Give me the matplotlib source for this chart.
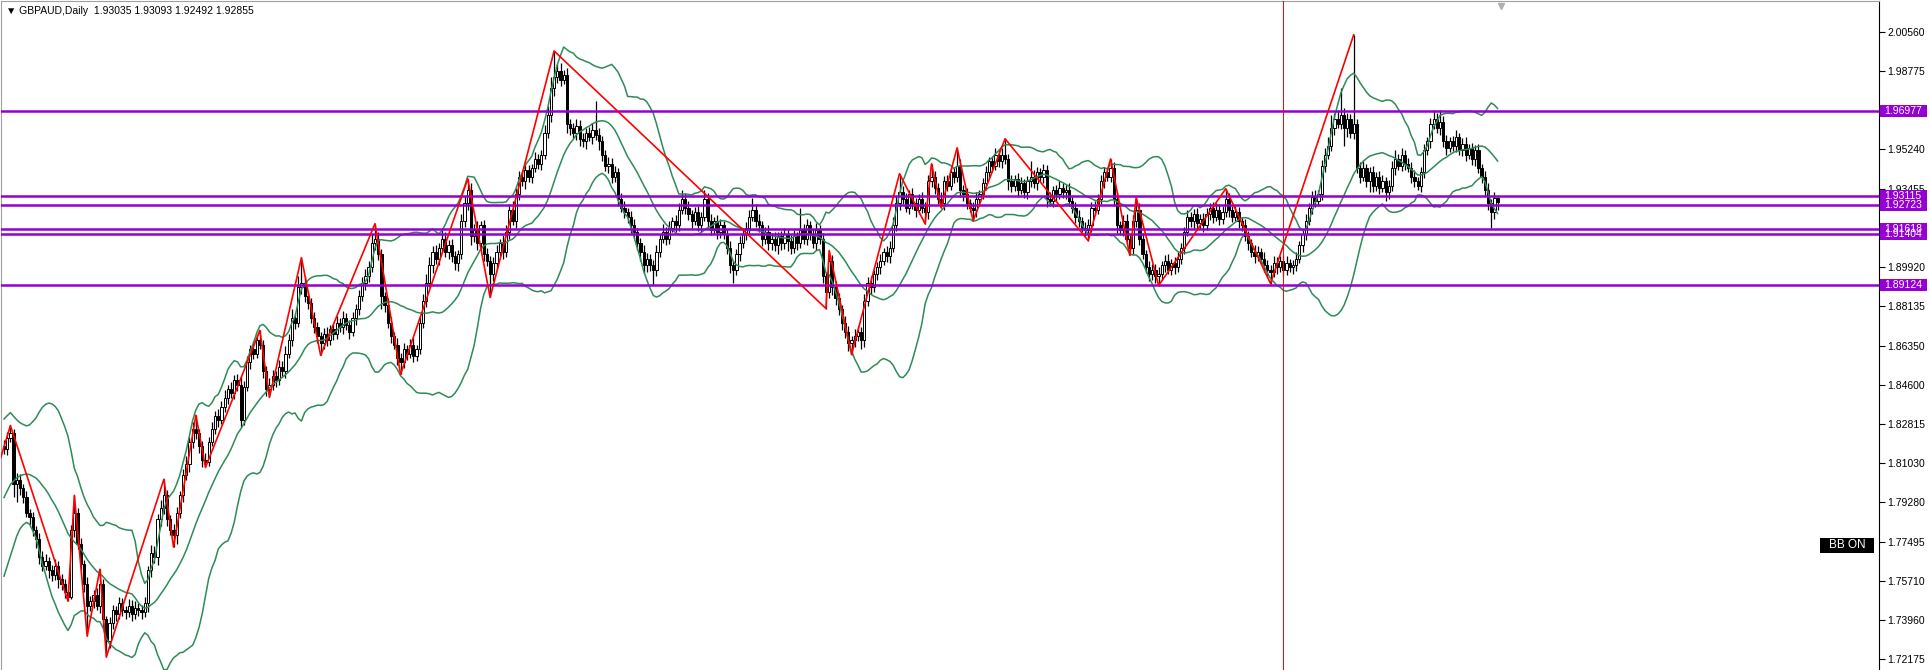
import numpy as np
import pandas as pd
import matplotlib
matplotlib.use("Agg")
import matplotlib.pyplot as plt
import matplotlib.transforms as mtransforms
from matplotlib.patches import Rectangle

"""
GBPAUD daily chart, MT4 look: candles, bollinger(20, 2), zigzag, horizontal levels.
prices are written in 1e-4 units (pips) to keep the lists short.
"""

W, H = 1931, 670

# closes before the first visible bar, only needed to start the bollinger window
pre_closes = [17620, 17660, 17700, 17740, 17800, 17850, 17830, 17900, 17950, 17920,
              17980, 18030, 18000, 18080, 18120, 18100, 18150, 18200, 18180]

# visible daily closes (open = previous close)
closes = [
    18170, 18220, 18240, 18010, 18030, 17990, 17950, 17880, 17860, 17800, 17760, 17680, 17640, 17660, 17620, 17600, 17640, 17580, 17560, 17520,  # 0
    17500, 17800, 17880, 17740, 17650, 17560, 17460, 17480, 17510, 17460, 17560, 17400, 17300, 17380, 17440, 17420, 17470, 17440, 17430, 17460,  # 20
    17420, 17450, 17440, 17430, 17470, 17620, 17700, 17680, 17850, 17900, 17960, 17850, 17800, 17780, 17880, 17960, 18050, 18100, 18200, 18260,  # 40
    18240, 18180, 18120, 18110, 18200, 18260, 18320, 18300, 18360, 18400, 18440, 18420, 18480, 18460, 18300, 18450, 18560, 18620, 18600, 18660,  # 60
    18640, 18520, 18440, 18460, 18500, 18480, 18540, 18520, 18600, 18660, 18760, 18740, 18900, 18920, 18860, 18830, 18760, 18720, 18680, 18650,  # 80
    18690, 18660, 18710, 18690, 18740, 18720, 18760, 18730, 18700, 18760, 18800, 18860, 18920, 18950, 18990, 19100, 19120, 19050, 18860, 18820,  # 100
    18740, 18680, 18640, 18580, 18560, 18620, 18600, 18640, 18590, 18620, 18740, 18840, 18920, 19000, 19060, 19030, 19080, 19120, 19060, 19090,  # 120
    19040, 19010, 19050, 19200, 19280, 19340, 19130, 19160, 19100, 19180, 19050, 19020, 18960, 19010, 19060, 19100, 19060, 19150, 19250, 19200,  # 140
    19320, 19400, 19380, 19430, 19400, 19440, 19480, 19460, 19500, 19600, 19680, 19800, 19850, 19880, 19840, 19860, 19640, 19620, 19600, 19630,  # 160
    19570, 19560, 19600, 19580, 19610, 19590, 19560, 19500, 19450, 19460, 19400, 19420, 19300, 19260, 19240, 19220, 19180, 19150, 19100, 19060,  # 180
    19000, 19030, 19000, 18980, 19060, 19120, 19150, 19120, 19170, 19200, 19180, 19250, 19300, 19260, 19230, 19200, 19240, 19180, 19220, 19300,  # 200
    19200, 19160, 19200, 19150, 19180, 19140, 19080, 19000, 18980, 19050, 19100, 19140, 19170, 19220, 19250, 19200, 19180, 19120, 19150, 19100,  # 220
    19120, 19090, 19130, 19100, 19140, 19110, 19080, 19130, 19100, 19160, 19120, 19180, 19140, 19100, 19160, 19120, 18950, 18880, 19020, 18900,  # 240
    18850, 18800, 18740, 18700, 18650, 18660, 18680, 18700, 18660, 18840, 18920, 18900, 18960, 18990, 19020, 19060, 19040, 19080, 19180, 19280,  # 260
    19330, 19300, 19260, 19320, 19280, 19250, 19300, 19260, 19240, 19380, 19400, 19350, 19300, 19280, 19380, 19360, 19420, 19400, 19450, 19340,  # 280
    19320, 19280, 19260, 19250, 19300, 19320, 19370, 19420, 19470, 19450, 19500, 19470, 19500, 19480, 19380, 19360, 19390, 19340, 19370, 19330,  # 300
    19380, 19400, 19370, 19420, 19400, 19430, 19300, 19290, 19340, 19320, 19350, 19330, 19340, 19290, 19260, 19220, 19200, 19170, 19160, 19180,  # 320
    19260, 19250, 19300, 19380, 19420, 19400, 19440, 19300, 19180, 19160, 19200, 19120, 19080, 19200, 19250, 19120, 19050, 18990, 18960, 18980,  # 340
    18950, 18960, 19000, 19020, 18980, 19010, 18990, 19030, 19080, 19150, 19220, 19200, 19230, 19190, 19210, 19180, 19230, 19260, 19220, 19250,  # 360
    19210, 19240, 19300, 19250, 19220, 19240, 19200, 19180, 19130, 19100, 19060, 19040, 19060, 19030, 19000, 18980, 18970, 19010, 18990, 19020,  # 380
    18980, 19010, 18990, 19000, 19030, 19090, 19140, 19200, 19260, 19310, 19290, 19320, 19450, 19500, 19540, 19620, 19660, 19640, 19680, 19620,  # 400
    19660, 19600, 19640, 19440, 19400, 19440, 19380, 19420, 19360, 19400, 19350, 19380, 19330, 19360, 19440, 19480, 19450, 19500, 19460, 19440,  # 420
    19400, 19380, 19360, 19420, 19520, 19560, 19640, 19660, 19620, 19650, 19560, 19530, 19560, 19540, 19580, 19520, 19550, 19500, 19530, 19480,  # 440
    19520, 19440, 19400, 19340, 19280, 19240, 19304, 19285.5,  # 460
]

# upper / lower shadow length above / below the body, pips
wick_up = [
    30, 25, 35, 20, 30, 25, 20, 30, 15, 25, 20, 30, 25, 35, 20, 25, 30, 20, 25, 20,
    20, 25, 79, 20, 25, 15, 30, 25, 20, 30, 65, 20, 15, 30, 25, 20, 30, 25, 20, 30,
    25, 30, 20, 25, 30, 20, 35, 30, 25, 40, 72, 25, 20, 30, 25, 20, 30, 35, 25, 30,
    61, 20, 25, 30, 25, 30, 20, 30, 25, 35, 20, 30, 25, 30, 40, 25, 30, 20, 35, 25,
    45, 20, 25, 30, 25, 20, 30, 25, 35, 30, 40, 25, 50, 114, 30, 25, 20, 30, 25, 20,
    25, 30, 20, 25, 30, 20, 35, 25, 20, 30, 25, 30, 25, 35, 30, 40, 68, 30, 25, 20,
    30, 25, 20, 30, 25, 30, 20, 25, 30, 20, 25, 30, 40, 35, 25, 30, 20, 50, 30, 25,
    30, 25, 20, 30, 35, 51, 30, 25, 40, 20, 25, 30, 20, 25, 30, 20, 35, 30, 25, 40,
    30, 25, 20, 30, 25, 20, 30, 25, 20, 35, 40, 50, 119, 30, 35, 25, 30, 20, 25, 30,
    25, 30, 20, 25, 35, 133, 30, 25, 20, 30, 25, 30, 20, 25, 30, 20, 25, 30, 20, 25,
    30, 25, 20, 25, 30, 20, 35, 25, 30, 20, 25, 30, 40, 25, 30, 20, 25, 30, 20, 40,
    25, 30, 20, 25, 30, 20, 25, 30, 20, 25, 30, 20, 25, 30, 55, 25, 30, 20, 25, 30,
    25, 30, 20, 25, 30, 20, 25, 30, 20, 100, 25, 30, 20, 25, 30, 20, 25, 20, 46, 25,
    30, 25, 20, 30, 25, 20, 30, 25, 20, 30, 25, 30, 20, 25, 30, 20, 25, 30, 40, 35,
    84, 30, 25, 20, 30, 25, 20, 30, 25, 30, 59, 25, 20, 30, 25, 30, 20, 25, 81, 30,
    25, 30, 20, 25, 30, 20, 25, 30, 20, 25, 30, 20, 30, 72, 25, 30, 20, 25, 30, 20,
    25, 70, 30, 25, 20, 30, 25, 30, 20, 25, 30, 20, 25, 30, 20, 25, 30, 20, 25, 30,
    25, 30, 20, 30, 25, 20, 41, 25, 30, 20, 25, 30, 20, 25, 56, 30, 25, 20, 30, 25,
    25, 30, 20, 25, 30, 20, 25, 30, 20, 25, 30, 20, 25, 30, 20, 25, 30, 20, 25, 30,
    25, 30, 46, 25, 20, 30, 25, 20, 30, 25, 20, 30, 25, 20, 30, 25, 20, 30, 25, 20,
    25, 30, 20, 25, 30, 20, 25, 30, 20, 25, 30, 20, 25, 30, 40, 60, 30, 40, 120, 30,
    30, 25, 402, 20, 25, 30, 20, 25, 30, 20, 25, 30, 20, 25, 30, 40, 25, 30, 20, 25,
    25, 30, 20, 25, 30, 20, 25, 40, 30, 50, 25, 30, 20, 25, 30, 20, 25, 30, 20, 25,
    25, 30, 20, 25, 30, 20, 25, 5,
]
wick_dn = [
    25, 30, 20, 60, 80, 30, 25, 20, 35, 25, 40, 30, 25, 20, 35, 30, 25, 40, 30, 25,
    19, 10, 30, 25, 30, 40, 137, 25, 30, 20, 35, 40, 72, 30, 25, 30, 20, 25, 30, 20,
    30, 20, 25, 30, 20, 40, 30, 25, 35, 30, 25, 30, 20, 55, 40, 25, 30, 20, 35, 25,
    25, 30, 35, 25, 20, 20, 25, 30, 20, 25, 30, 20, 25, 30, 30, 25, 20, 30, 25, 20,
    20, 30, 30, 38, 25, 30, 20, 25, 30, 20, 25, 30, 20, 30, 25, 30, 20, 25, 30, 58,
    30, 25, 20, 30, 25, 20, 30, 25, 35, 20, 30, 25, 20, 30, 25, 20, 30, 25, 60, 30,
    25, 30, 20, 30, 54, 25, 30, 20, 30, 25, 20, 25, 30, 20, 35, 25, 30, 20, 25, 30,
    25, 30, 35, 20, 25, 30, 40, 25, 30, 35, 30, 25, 106, 30, 25, 20, 30, 25, 30, 20,
    30, 25, 20, 35, 25, 30, 20, 25, 30, 20, 25, 30, 35, 25, 30, 20, 40, 30, 25, 35,
    30, 25, 35, 20, 30, 25, 40, 30, 25, 35, 30, 25, 30, 20, 25, 30, 35, 25, 30, 40,
    35, 30, 25, 70, 30, 25, 20, 30, 25, 20, 30, 25, 20, 30, 25, 30, 20, 25, 30, 20,
    30, 25, 20, 30, 25, 20, 30, 35, 60, 25, 30, 20, 25, 30, 20, 25, 30, 35, 25, 30,
    30, 25, 40, 30, 25, 45, 30, 25, 30, 20, 25, 30, 25, 20, 30, 25, 30, 76, 30, 35,
    30, 25, 35, 30, 40, 54, 30, 25, 40, 30, 25, 30, 20, 25, 30, 20, 25, 30, 20, 25,
    30, 25, 20, 30, 25, 30, 20, 25, 53, 30, 25, 30, 25, 20, 30, 25, 20, 30, 25, 30,
    30, 25, 20, 49, 30, 25, 20, 30, 25, 30, 20, 25, 30, 20, 40, 30, 25, 30, 20, 25,
    30, 25, 20, 30, 25, 30, 35, 20, 25, 30, 20, 25, 30, 20, 25, 30, 25, 20, 30, 49,
    30, 25, 20, 25, 30, 20, 25, 30, 35, 25, 30, 25, 36, 30, 25, 30, 20, 25, 30, 25,
    30, 42, 25, 30, 20, 25, 30, 20, 25, 30, 20, 25, 30, 20, 25, 30, 20, 25, 30, 20,
    30, 25, 20, 30, 25, 20, 30, 25, 20, 30, 25, 30, 20, 25, 30, 35, 53, 25, 30, 20,
    30, 25, 20, 30, 25, 20, 30, 25, 20, 30, 25, 20, 25, 30, 20, 25, 30, 20, 25, 80,
    40, 25, 30, 25, 30, 20, 25, 50, 30, 25, 30, 20, 40, 30, 25, 30, 20, 25, 30, 20,
    30, 25, 20, 30, 25, 20, 30, 25, 20, 30, 25, 30, 20, 25, 30, 20, 25, 30, 20, 25,
    30, 25, 30, 25, 30, 70, 30, 37,
]

# zigzag swing points (bar index, price)
zz_idx = [-1, 2, 20, 22, 26, 30, 32, 50, 53, 60, 63, 80, 83, 93, 99, 116, 124, 145, 152, 172,
          257, 258, 265, 280, 288, 290, 293, 298, 303, 313, 339, 346, 352, 354, 361, 382, 396, 422]
zz_price = [1.8130, 1.8275, 1.7481, 1.7959, 1.7323, 1.7625, 1.7228, 1.8032, 1.7725, 1.8321,
            1.8085, 1.8705, 1.8402, 1.9034, 1.8592, 1.9188, 1.8506, 1.9391, 1.8854, 1.9969,
            1.8804, 1.9066, 1.8596, 1.9414, 1.9187, 1.9459, 1.9260, 1.9531, 1.9201, 1.9572,
            1.9111, 1.9481, 1.9044, 1.9306, 1.8908, 1.9346, 1.8917, 2.0042]

levels = [1.96977, 1.93115, 1.92723, 1.91618, 1.91404, 1.89124]
# axis grid prices; the ones sitting under a level box are left without a label
price_ticks = [2.00560, 1.98775, 1.96990, 1.95240, 1.93455, 1.91670, 1.89920, 1.88135, 1.86350,
               1.84600, 1.82815, 1.81030, 1.79280, 1.77495, 1.75710, 1.73960, 1.72175]
hidden_ticks = [1.96990, 1.91670]
vline_bar = 400
title = "\u25bc GBPAUD,Daily  1.93035 1.93093 1.92492 1.92855"

n = min(len(closes), len(wick_up), len(wick_dn))
print("bars:", len(closes), len(wick_up), len(wick_dn))

allc = np.array(pre_closes + closes[:n], dtype=float) / 1e4
npre = len(pre_closes)
c = allc[npre:]
o = allc[npre - 1:-1]
hi = np.maximum(o, c) + np.array(wick_up[:n]) / 1e4
lo = np.minimum(o, c) - np.array(wick_dn[:n]) / 1e4

s = pd.Series(allc)
mid = s.rolling(20).mean().values[npre:]
sd = s.rolling(20).std(ddof=0).values[npre:]
upper = mid + 2 * sd
lower = mid - 2 * sd

plt.rcParams['font.family'] = ['Liberation Sans', 'DejaVu Sans']

fig = plt.figure(figsize=(W / 100, H / 100), dpi=100)
ax = fig.add_axes([1 / W, 0, (1879 - 1) / W, (H - 1) / H])
ax.set_facecolor('white')

x = np.arange(n)
ax.vlines(x, lo, hi, color='black', lw=0.9, zorder=2)
bull = c >= o
ax.bar(x[bull], (c - o)[bull], bottom=o[bull], width=0.7, facecolor='white',
       edgecolor='black', lw=0.7, zorder=3)
ax.bar(x[~bull], (o - c)[~bull], bottom=c[~bull], width=0.7, facecolor='black',
       edgecolor='black', lw=0.7, zorder=3)

for band in (upper, mid, lower):
    ax.plot(x, band, color='#2E8B57', lw=1.1, zorder=4)

for lv in levels:
    ax.axhline(lv, color='#9400D3', lw=1.8, zorder=5)

ax.plot(zz_idx, zz_price, color='red', lw=1.2, zorder=6)
ax.axvline(vline_bar, color='red', lw=0.7, zorder=6)

ax.set_xlim(-3 / 3.2, (1879 - 3) / 3.2)
ax.set_ylim(1.71689, 2.01951)

ax.set_xticks([])
ax.yaxis.tick_right()
ax.set_yticks(price_ticks)
ax.set_yticklabels(["" if p in hidden_ticks else f"{p:.5f}" for p in price_ticks])
ax.tick_params(axis='y', direction='out', length=4, width=0.8, labelsize=7.5, pad=2)
ax.spines['bottom'].set_visible(False)
ax.spines['top'].set_color('#a0a0a0')
ax.spines['left'].set_color('#a0a0a0')
ax.spines['right'].set_linewidth(0.8)

# price boxes of the horizontal levels on the axis
trans = mtransforms.blended_transform_factory(fig.transFigure, ax.transData)
for lv in levels:
    ax.add_patch(Rectangle((1880 / W, lv - 0.0027), 47 / W, 0.0054, transform=trans,
                           facecolor='#9400D3', edgecolor='none', clip_on=False, zorder=10))
    ax.text(1884 / W, lv, f"{lv:.5f}", transform=trans, color='white', fontsize=7.5,
            va='center', ha='left', clip_on=False, zorder=11)

# chart shift marker
ax.plot([n], [0.993], marker='v', ms=5, color='#b0b0b0', clip_on=False,
        transform=mtransforms.blended_transform_factory(ax.transData, ax.transAxes))

fig.add_artist(Rectangle((1820 / W, 1 - 553 / H), 54 / W, 15 / H, transform=fig.transFigure,
                         facecolor='black', edgecolor='none'))
fig.text(1847 / W, 1 - 545.5 / H, "BB ON", color='white', fontsize=8.5, ha='center', va='center')
fig.text(6 / W, 1 - 11 / H, title, fontsize=7.5, ha='left', va='center')

fig.savefig('out.png', dpi=100)
